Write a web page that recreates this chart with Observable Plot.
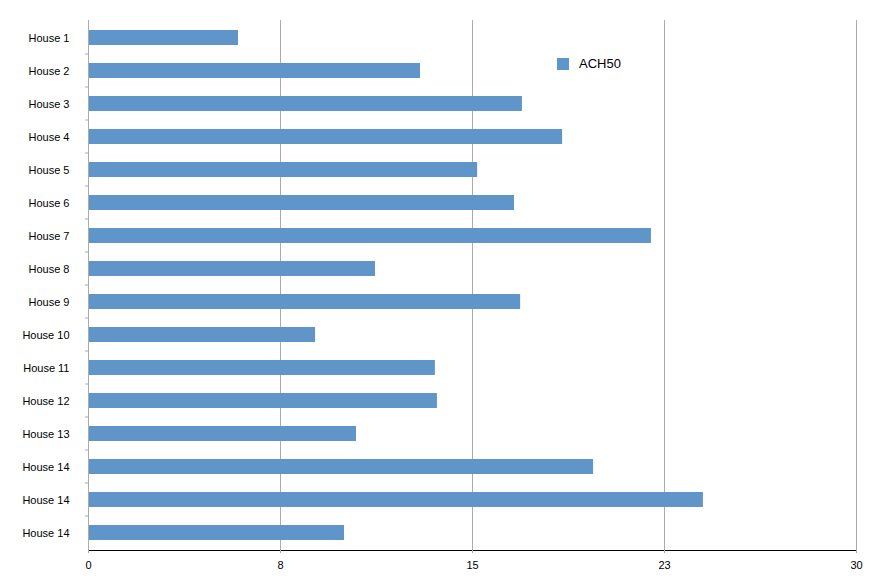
<!DOCTYPE html>
<html>
<head>
<meta charset="utf-8">
<script src="https://cdn.jsdelivr.net/npm/d3@7"></script>
<script src="https://cdn.jsdelivr.net/npm/@observablehq/plot@0.6"></script>
<style>
  html, body { margin: 0; padding: 0; background: #fff; }
  #wrap { position: relative; width: 879px; height: 579px; font-family: "Liberation Sans", Arial, Helvetica, sans-serif; }
  #legend { position: absolute; left: 557px; top: 56px; display: flex; align-items: center; font-size: 13px; color: #000; }
  #legend .sw { width: 12px; height: 12px; background: #5f95c8; margin-right: 10px; }
</style>
</head>
<body>
<div id="wrap">
  <div id="legend"><div class="sw"></div><span>ACH50</span></div>
</div>
<script>
const houses = ["House 1","House 2","House 3","House 4","House 5","House 6","House 7","House 8",
  "House 9","House 10","House 11","House 12","House 13","House 14","House 14","House 14"];
const ach50 = [5.86, 12.97, 16.95, 18.52, 15.2, 16.64, 21.99, 11.21, 16.88, 8.87, 13.55, 13.63, 10.47, 19.73, 24.02, 10.0];
const xTicks = [0, 7.5, 15, 22.5, 30];
const seriesName = "ACH50";

const data = houses.map((h, i) => ({i, house: h, value: ach50[i]}));
const idx = houses.map((_, i) => i);

const gridColor = "#ababab";
const barColor = "#5f95c8";

// boundary ticks on the y axis, positioned through the y scale
function yBoundaryTicks(index, scales, values, dims) {
  const y = scales.y;
  const bw = y.bandwidth ? y.bandwidth() : 0;
  const pos = idx.map(i => y(i) + bw / 2);
  const bounds = [];
  for (let k = 0; k < pos.length - 1; k++) bounds.push((pos[k] + pos[k + 1]) / 2);
  const x0 = scales.x(0);
  const g = d3.create("svg:g");
  g.selectAll("line").data(bounds).join("line")
    .attr("x1", x0 - 3).attr("x2", x0)
    .attr("y1", d => d).attr("y2", d => d)
    .attr("stroke", gridColor).attr("stroke-width", 1);
  return g.node();
}

const chart = Plot.plot({
  width: 879,
  height: 579,
  marginLeft: 88,
  marginRight: 23,
  marginTop: 20,
  marginBottom: 29,
  style: { fontFamily: '"Liberation Sans", Arial, Helvetica, sans-serif', fontSize: "11px", color: "#000", background: "transparent" },
  x: { domain: [0, 30], ticks: xTicks, tickFormat: d => String(Math.round(d)), tickSize: 3, tickPadding: 8, label: null, line: true },
  y: { domain: idx, paddingInner: 0.547, paddingOuter: 0.274, tickFormat: d => houses[d], tickSize: 0, tickPadding: 19, label: null },
  marks: [
    Plot.ruleX(xTicks.slice(1), { stroke: gridColor, strokeWidth: 1, strokeOpacity: 1 }),
    Plot.barX(data, { y: "i", x: "value", fill: barColor }),
    Plot.ruleX([0], { stroke: gridColor, strokeWidth: 1 }),
    yBoundaryTicks
  ]
});
chart.style.position = "absolute";
chart.style.left = "0";
chart.style.top = "0";
d3.select(chart).selectAll("[aria-label='x-axis tick'] path, [aria-label='x-axis line'] line").attr("stroke", gridColor);
document.getElementById("wrap").prepend(chart);
</script>
</body>
</html>
